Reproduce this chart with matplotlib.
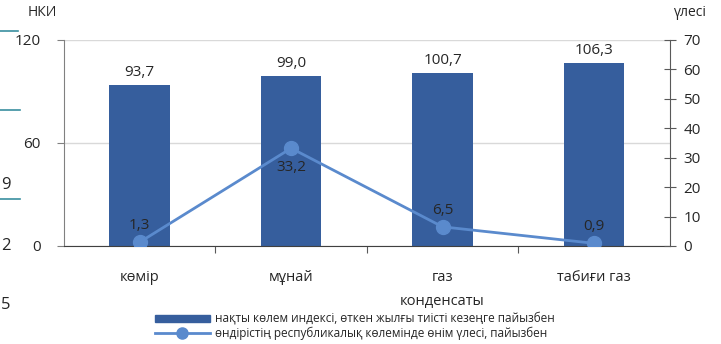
import matplotlib.pyplot as plt
from matplotlib.patches import Rectangle
from matplotlib.lines import Line2D

categories = ['көмір', 'мұнай', 'газ\nконденсаты', 'табиғи газ']
index_vals = [93.7, 99.0, 100.7, 106.3]
share_vals = [1.3, 33.2, 6.5, 0.9]
bar_labels = ['93,7', '99,0', '100,7', '106,3']
share_labels = ['1,3', '33,2', '6,5', '0,9']
legend_labels = ['нақты көлем индексі, өткен жылғы тиісті кезеңге пайызбен',
                 'өндірістің республикалық көлемінде өнім үлесі, пайызбен']

bar_color = '#365E9D'
line_color = '#5A8ACD'
txt = '#262626'

plt.rcParams['font.family'] = ['Open Sans', 'DejaVu Sans']

fig = plt.figure(figsize=(7.21, 3.44), dpi=100)
ax = fig.add_axes([0.0888, 0.285, 0.840, 0.599])
ax2 = ax.twinx()

x = list(range(len(categories)))
ax.bar(x, index_vals, width=0.4, color=bar_color, zorder=2)
for xi, v, lab in zip(x, index_vals, bar_labels):
    ax.text(xi, v + 3, lab, ha='center', va='bottom', fontsize=11, color=txt)

ax.set_xlim(-0.5, 3.5)
ax.set_ylim(0, 120)
ax.set_yticks([0, 60, 120])
ax.grid(axis='y', color='#d9d9d9', lw=1, zorder=0)
ax.set_axisbelow(True)
ax.set_xticks([0.5, 1.5, 2.5], minor=False)
ax.set_xticklabels([])
ax.set_xticks(x, minor=True)
ax.set_xticklabels(categories, minor=True, fontsize=10.5, color=txt, linespacing=1.9)
ax.tick_params(axis='x', which='minor', length=0, pad=17)
ax.tick_params(axis='x', which='major', length=5, color='#595959', direction='out')
ax.tick_params(axis='y', length=5, color='#808080', labelsize=11, labelcolor=txt, pad=12)
for s in ['top', 'right']:
    ax.spines[s].set_visible(False)
ax.spines['left'].set_color('#808080')
ax.spines['bottom'].set_color('#404040')

ax2.plot(x, share_vals, color=line_color, lw=2, marker='o', ms=10, zorder=3)
ax2.set_ylim(0, 70)
ax2.set_yticks(range(0, 71, 10))
ax2.tick_params(axis='y', direction='inout', length=8, color='#595959', labelsize=11,
                labelcolor=txt, pad=6)
for s in ['top', 'left', 'bottom']:
    ax2.spines[s].set_visible(False)
ax2.spines['right'].set_color('#595959')
offsets = [1, -1, 1, 1]
for xi, v, lab, o in zip(x, share_vals, share_labels, offsets):
    if o > 0:
        ax2.text(xi, v + 3, lab, ha='center', va='bottom', fontsize=11, color=txt)
    else:
        ax2.text(xi, v - 4, lab, ha='center', va='top', fontsize=11, color=txt)

fig.text(42 / 721, 1 - 13 / 344, 'НКИ', ha='center', va='center', fontsize=10, color=txt)
fig.text(690 / 721, 1 - 13 / 344, 'үлесі', ha='center', va='center', fontsize=10, color=txt)

# legend
fig.patches.append(Rectangle((155 / 721, 1 - 322 / 344), 55 / 721, 7 / 344,
                             transform=fig.transFigure, color=bar_color))
fig.lines.append(Line2D([155 / 721, 210 / 721], [1 - 333 / 344] * 2, transform=fig.transFigure,
                        color=line_color, lw=2))
fig.lines.append(Line2D([182 / 721], [1 - 333 / 344], transform=fig.transFigure,
                        color=line_color, marker='o', ms=8))
fig.text(215 / 721, 1 - 318 / 344, legend_labels[0], ha='left', va='center', fontsize=8.5, color=txt)
fig.text(215 / 721, 1 - 333 / 344, legend_labels[1], ha='left', va='center', fontsize=8.5, color=txt)

# cropped neighbour chart on the left edge
edge = '#3A8FA0'
for y0, x1 in [(31, 18), (110, 20), (199, 20)]:
    fig.lines.append(Line2D([0, x1 / 721], [1 - y0 / 344] * 2, transform=fig.transFigure,
                            color=edge, lw=1.2))
for y0, s in [(185, '9'), (246, '2'), (305, '5')]:
    fig.text(1 / 721, 1 - y0 / 344, s, ha='left', va='center', fontsize=12, color=txt)

fig.savefig('out.png', dpi=100)
